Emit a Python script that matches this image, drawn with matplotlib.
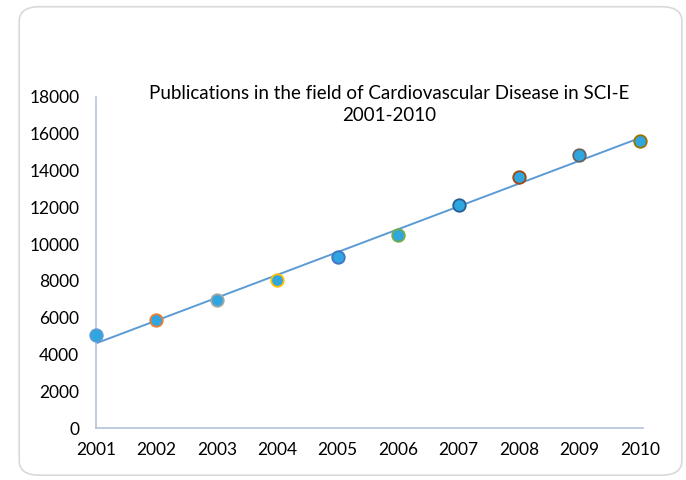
import numpy as np
import matplotlib.pyplot as plt
from matplotlib.patches import FancyBboxPatch

plt.rcParams['font.family'] = ['Lato', 'DejaVu Sans']

years = [2001, 2002, 2003, 2004, 2005, 2006, 2007, 2008, 2009, 2010]
publications = [5050, 5870, 6960, 8040, 9290, 10490, 12120, 13640, 14840, 15600]
edge_colors = ['#5B9BD5', '#ED7D31', '#A5A5A5', '#FFC000', '#4472C4',
               '#70AD47', '#255E91', '#9E480E', '#636363', '#997300']

fig = plt.figure(figsize=(6.86, 4.8), dpi=100)

# rounded frame
frame = FancyBboxPatch((0.028, 0.01), 0.966, 0.976,
                       boxstyle='round,pad=0,rounding_size=0.03',
                       transform=fig.transFigure, facecolor='white',
                       edgecolor='#D9D9D9', linewidth=1.2, zorder=-5)
fig.patches.append(frame)

ax = fig.add_axes([0.14, 0.108, 0.797, 0.69])
ax.set_facecolor('none')
ax.set_zorder(2)

# linear trendline
coef = np.polyfit(years, publications, 1)
xs = np.array([years[0], years[-1]])
ax.plot(xs, np.polyval(coef, xs), color='#5B9BD5', linewidth=1.4, zorder=2)

for x, y, ec in zip(years, publications, edge_colors):
    ax.plot(x, y, 'o', markersize=9, markerfacecolor='#30A6E0',
            markeredgecolor=ec, markeredgewidth=1.3, zorder=3, clip_on=False)

ax.set_xlim(2001, 2010.05)
ax.set_ylim(0, 18000)
ax.set_xticks(years)
ax.set_yticks(range(0, 18001, 2000))
ax.tick_params(length=0, labelsize=12.5, colors='black')
ax.tick_params(axis='x', pad=10)
ax.tick_params(axis='y', pad=12)

for s in ['top', 'right']:
    ax.spines[s].set_visible(False)
for s in ['left', 'bottom']:
    ax.spines[s].set_color('#B4C4DA')
    ax.spines[s].set_linewidth(1.2)

fig.text(0.568, 0.783, 'Publications in the field of Cardiovascular Disease in SCI-E\n2001-2010',
         ha='center', va='center', fontsize=13.5, linespacing=1.35)

fig.savefig('out.png', dpi=100)
